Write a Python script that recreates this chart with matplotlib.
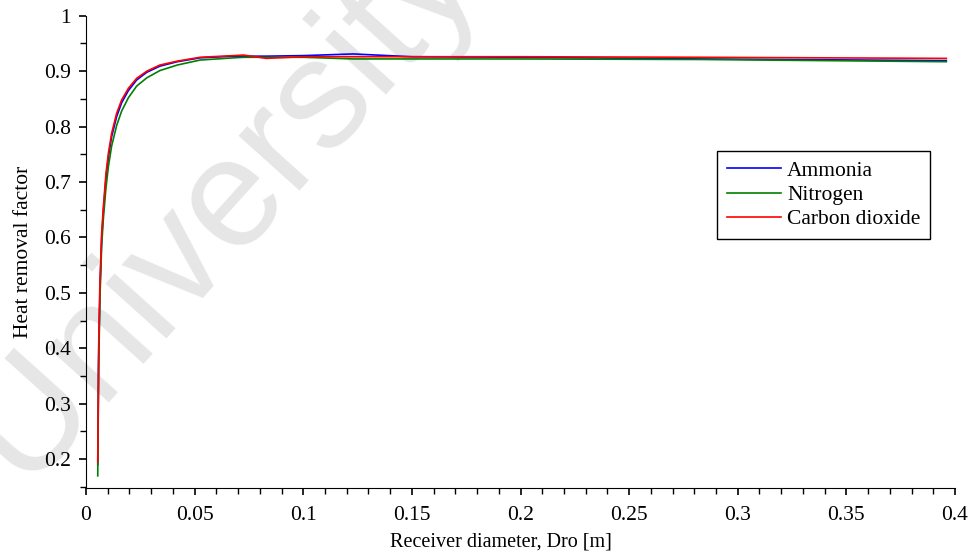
import matplotlib
matplotlib.use("Agg")
from matplotlib import pyplot as plt
from matplotlib.ticker import MultipleLocator

plt.rcParams['font.family'] = ['Liberation Serif', 'DejaVu Serif']

# receiver diameter [m]
dro = [0.0054, 0.0058, 0.0064, 0.0072, 0.008, 0.0092, 0.0103, 0.0118, 0.0141, 0.0164,
       0.0195, 0.0233, 0.028, 0.034, 0.042, 0.0525, 0.068, 0.0725, 0.083, 0.1,
       0.123, 0.15, 0.2, 0.283, 0.396]

# heat removal factor for each working fluid
ammonia = [0.19, 0.38, 0.505, 0.598, 0.648, 0.708, 0.745, 0.782, 0.818, 0.843,
           0.865, 0.884, 0.898, 0.909, 0.917, 0.924, 0.927, 0.927, 0.927, 0.928,
           0.931, 0.926, 0.925, 0.922, 0.919]
nitrogen = [0.17, 0.36, 0.49, 0.585, 0.635, 0.69, 0.728, 0.765, 0.802, 0.828,
            0.852, 0.873, 0.888, 0.901, 0.911, 0.920, 0.924, 0.925, 0.925, 0.925,
            0.922, 0.922, 0.922, 0.921, 0.917]
co2 = [0.195, 0.398, 0.518, 0.608, 0.656, 0.716, 0.752, 0.788, 0.824, 0.848,
       0.869, 0.887, 0.900, 0.911, 0.918, 0.925, 0.928, 0.929, 0.923, 0.926,
       0.926, 0.926, 0.926, 0.925, 0.923]

names = ['Ammonia', 'Nitrogen', 'Carbon dioxide']
cols = ['#0000ff', '#008000', '#ff0000']

fig = plt.figure(figsize=(9.72, 5.51), dpi=100)

# faint watermark behind the plot
fig.text(0.228, 0.630, 'University', rotation=48, fontsize=112, color='#e6e6e6',
         family='Liberation Sans', ha='center', va='center', zorder=0)

ax = fig.add_axes([0.0885, 0.1143, 0.8940, 0.8572])
ax.set_zorder(1)
ax.patch.set_alpha(0)

for ys, name, c in zip([ammonia, nitrogen, co2], names, cols):
    ax.plot(dro, ys, color=c, lw=1.2, label=name)

ax.set_xlim(0, 0.4)
ax.set_ylim(0.148, 1.0)
ax.spines['top'].set_visible(False)
ax.spines['right'].set_visible(False)
ax.xaxis.set_minor_locator(MultipleLocator(0.01))
ax.yaxis.set_minor_locator(MultipleLocator(0.05))
ax.set_xticks([0, 0.05, 0.1, 0.15, 0.2, 0.25, 0.3, 0.35, 0.4])
ax.set_xticklabels(['0', '0.05', '0.1', '0.15', '0.2', '0.25', '0.3', '0.35', '0.4'])
ax.set_yticks([0.2, 0.3, 0.4, 0.5, 0.6, 0.7, 0.8, 0.9, 1.0])
ax.set_yticklabels(['0.2', '0.3', '0.4', '0.5', '0.6', '0.7', '0.8', '0.9', '1'])
ax.tick_params(which='major', direction='out', length=5, width=1.2, labelsize=15.5)
ax.tick_params(axis='x', which='major', pad=8)
ax.tick_params(axis='y', which='major', pad=6)
ax.tick_params(which='minor', direction='out', length=4, width=1)

ax.set_xlabel('Receiver diameter, Dro [m]', fontsize=14.5)
ax.xaxis.set_label_coords(0.477, -0.095)
ax.set_ylabel('Heat removal factor', fontsize=15.5, labelpad=8)

leg = ax.legend(loc='upper left', bbox_to_anchor=(0.7377, 0.726), bbox_transform=fig.transFigure,
                borderaxespad=0, fontsize=15.5, frameon=True, fancybox=False, framealpha=1,
                edgecolor='black', handlelength=2.5, handletextpad=0.3, labelspacing=0.2,
                borderpad=0.45)
leg.get_frame().set_linewidth(1.0)

plt.savefig('out.png', dpi=100)
